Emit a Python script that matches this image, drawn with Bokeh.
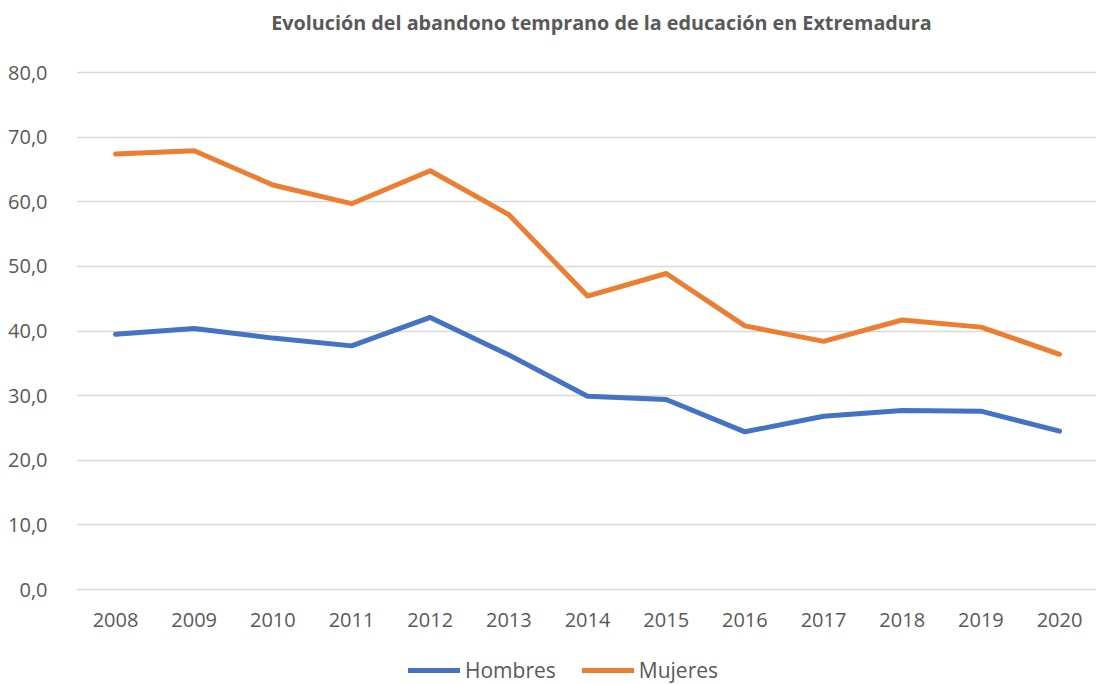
from bokeh.plotting import figure
from bokeh.models import (ColumnDataSource, Range1d, FixedTicker, CustomJSTickFormatter,
                          Legend, LegendItem, Label)
from bokeh.embed import file_html
from bokeh.resources import INLINE

years = [2008, 2009, 2010, 2011, 2012, 2013, 2014, 2015, 2016, 2017, 2018, 2019, 2020]
hombres = [39.5, 40.4, 38.9, 37.7, 42.1, 36.3, 29.9, 29.4, 24.4, 26.8, 27.7, 27.6, 24.5]
mujeres = [67.4, 67.9, 62.6, 59.7, 64.8, 58.0, 45.4, 48.9, 40.8, 38.4, 41.7, 40.6, 36.4]
y_ticks = [0, 10, 20, 30, 40, 50, 60, 70, 80]
title_text = "Evolución del abandono temprano de la educación en Extremadura"

FONT = "Open Sans"
GREY = "#595959"
FRAME_W = 1020
STEP = 78.67          # px per year
FRAME_H = 684
PX_PER_UNIT = 6.4625  # px per y unit
TOP_PAD = 72          # px of frame above the top gridline (room for the title)

src = ColumnDataSource(dict(x=years, h=hombres, m=mujeres))

x0 = years[0] - 0.496
y_top = y_ticks[-1] + TOP_PAD / PX_PER_UNIT
y0 = y_top - FRAME_H / PX_PER_UNIT
p = figure(frame_width=FRAME_W, frame_height=FRAME_H, output_backend="svg", toolbar_location=None,
           x_range=Range1d(x0, x0 + FRAME_W / STEP), y_range=Range1d(y0, y_top),
           min_border_left=76, min_border_right=0, min_border_top=0, min_border_bottom=0)

title = Label(text=title_text, x=525, y=FRAME_H - 22, x_units="screen", y_units="screen",
              text_align="center", text_baseline="middle", text_font=FONT,
              text_font_size="19.75px", text_font_style="bold", text_color=GREY)
p.add_layout(title)

p.outline_line_color = None
p.background_fill_color = "white"
p.border_fill_color = "white"

p.xgrid.grid_line_color = None
p.ygrid.grid_line_color = "#D9D9D9"
p.ygrid.grid_line_width = 1.5

p.yaxis.ticker = FixedTicker(ticks=y_ticks)
p.yaxis.formatter = CustomJSTickFormatter(code="return tick.toFixed(1).replace('.', ',');")
p.xaxis.ticker = FixedTicker(ticks=years)
p.xaxis.formatter = CustomJSTickFormatter(code="return tick.toFixed(0);")
p.xaxis.fixed_location = 0
for ax in (p.xaxis, p.yaxis):
    ax.axis_line_color = None
    ax.major_tick_line_color = None
    ax.minor_tick_line_color = None
    ax.major_label_text_font = FONT
    ax.major_label_text_font_size = "20px"
    ax.major_label_text_color = GREY
p.yaxis.major_label_standoff = 23
p.xaxis.major_label_standoff = 17

r1 = p.line("x", "h", source=src, line_color="#4472C4", line_width=5,
            line_cap="round", line_join="round")
r2 = p.line("x", "m", source=src, line_color="#ED7D31", line_width=5,
            line_cap="round", line_join="round")

legend = Legend(items=[LegendItem(label="Hombres", renderers=[r1]),
                       LegendItem(label="Mujeres", renderers=[r2])],
                orientation="horizontal", location=(332, 0),
                label_text_font=FONT, label_text_font_size="21px", label_text_color=GREY,
                glyph_width=52, glyph_height=20, label_standoff=5, spacing=26,
                border_line_color=None, background_fill_alpha=0, padding=0, margin=0)
p.add_layout(legend, "center")

open("out.html", "w").write(file_html(p, INLINE))
